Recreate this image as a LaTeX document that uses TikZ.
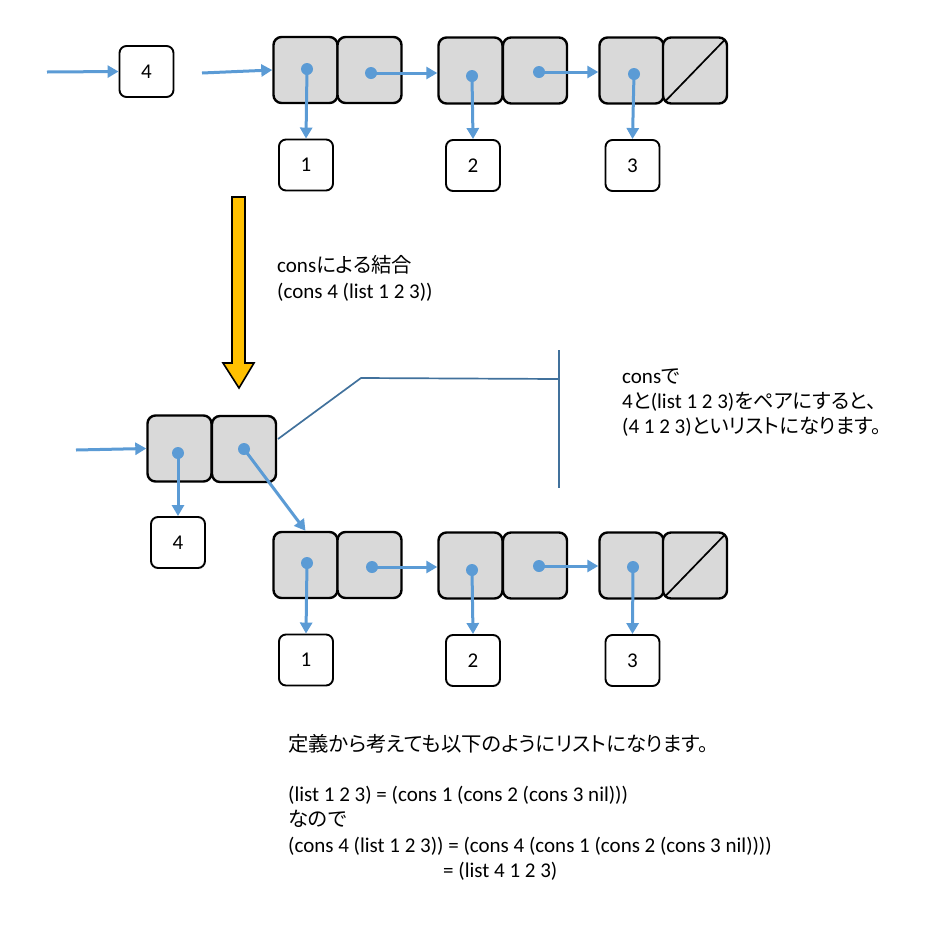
\documentclass[tikz,border=0pt]{standalone}
\usepackage{fontspec}
\setmainfont{Carlito}
\newfontfamily\jpf{Noto Sans CJK JP}[RawFeature=+palt, Scale=0.97]
\usetikzlibrary{arrows.meta}
\newcommand\J[1]{{\jpf #1}}
\definecolor{ptrblue}{HTML}{5B9BD5}
\definecolor{cellgray}{HTML}{D9D9D9}
\definecolor{arrowyellow}{HTML}{FFC000}
\definecolor{calloutblue}{HTML}{41719C}
\tikzset{
  cell/.style={draw=black, line width=2.4, fill=cellgray, rounded corners=8,
    minimum width=64, minimum height=66, inner sep=0},
  numbox/.style={draw=black, line width=1.9, fill=white, rounded corners=7,
    minimum width=54, minimum height=51, inner sep=0, font=\fontsize{21}{25}\selectfont},
  dot/.style={circle, fill=ptrblue, minimum size=12, inner sep=0},
  ptr/.style={draw=ptrblue, line width=3, -{Triangle[length=11pt, width=12pt]}},
  txt/.style={anchor=base west, inner sep=0, font=\fontsize{21}{25.5}\selectfont},
  callout/.style={draw=calloutblue, line width=1.7},
}
\begin{document}
\begin{tikzpicture}[x=1pt, y=-1pt]
\useasboundingbox (0,0) rectangle (943,930);

% ---------- top: 4 alone ----------
\node[numbox] (n4t) at (146.5,71.5) {4};
\coordinate (in4t) at (47,72);
\draw[ptr] (in4t) -- (n4t.west);

% ---------- top list (1 2 3) ----------
\node[cell] (a1) at (305.5,70) {};
\node[cell] (a2) at (369.5,70) {};
\node[cell] (b1) at (470.5,70.5) {};
\node[cell] (b2) at (535,70.5) {};
\node[cell] (c1) at (631.5,70.5) {};
\node[cell] (c2) at (695,70.5) {};
\draw[line width=1.7] ([shift={(3,-3)}]c2.south west) -- ([shift={(-3,3)}]c2.north east);

\node[numbox] (n1) at (306,165) {1};
\node[numbox] (n2) at (473,165.5) {2};
\node[numbox] (n3) at (632.5,165.5) {3};

\coordinate (inA) at (202,73);
\draw[ptr] (inA) -- (a1.west);

\node[dot] (a1d) at (307,69) {};
\node[dot] (a2d) at (371,73) {};
\node[dot] (b1d) at (472,76) {};
\node[dot] (b2d) at (539,72) {};
\node[dot] (c1d) at (634,74) {};
\draw[ptr] (a1d.center) -- (n1.north);
\draw[ptr] (a2d.center) -- (a2d.center -| b1.west);
\draw[ptr] (b1d.center) -- (n2.north);
\draw[ptr] (b2d.center) -- (b2d.center -| c1.west);
\draw[ptr] (c1d.center) -- (n3.north);

% ---------- big yellow arrow ----------
\draw[fill=arrowyellow, line width=1.6, line join=miter]
  (232,197) -- (245,197) -- (245,363) -- (254,363) -- (239,388) -- (223,363) -- (232,363) -- cycle;

\node[txt] (t1) at (277,272) {cons\J{による結合}};
\node[txt] (t2) at (277,298) {(cons 4 (list 1 2 3))};

% ---------- bottom: cons cell with 4 ----------
\node[cell] (d1) at (179.5,448.5) {};
\node[cell] (d2) at (244,449) {};
\node[numbox] (n4b) at (178,542.5) {4};
\coordinate (inD) at (76,450);
\draw[ptr] (inD) -- (d1.west);

% ---------- bottom list ----------
\node[cell] (e1) at (305.5,565) {};
\node[cell] (e2) at (369.5,565) {};
\node[cell] (f1) at (470.5,565.5) {};
\node[cell] (f2) at (535,565.5) {};
\node[cell] (g1) at (631.5,565.5) {};
\node[cell] (g2) at (695,565.5) {};
\draw[line width=1.7] ([shift={(3,-3)}]g2.south west) -- ([shift={(-3,3)}]g2.north east);

\node[numbox] (m1) at (306,660) {1};
\node[numbox] (m2) at (473,660.5) {2};
\node[numbox] (m3) at (632.5,660.5) {3};

\node[dot] (d1d) at (178,453) {};
\node[dot] (d2d) at (244,449) {};
\node[dot] (e1d) at (307,563) {};
\node[dot] (e2d) at (372,567) {};
\node[dot] (f1d) at (472,570) {};
\node[dot] (f2d) at (539,566) {};
\node[dot] (g1d) at (633,567) {};
\draw[ptr] (d1d.center) -- (n4b.north);
\draw[ptr] (d2d.center) -- (e1.north);
\draw[ptr] (e1d.center) -- (m1.north);
\draw[ptr] (e2d.center) -- (e2d.center -| f1.west);
\draw[ptr] (f1d.center) -- (m2.north);
\draw[ptr] (f2d.center) -- (f2d.center -| g1.west);
\draw[ptr] (g1d.center) -- (m3.north);

% ---------- callout ----------
\coordinate (cs) at (278,439);
\coordinate (ck) at (361,378);
\coordinate (cm) at (559,379);
\coordinate (ct) at (559,350);
\coordinate (cb) at (559,488);
\draw[callout] (cs) -- (ck) -- (cm);
\draw[callout] (ct) -- (cb);
\node[txt] (c1t) at (622,383) {cons\J{で}};
\node[txt] (c2t) at (622,408) {4\J{と}(list 1 2 3)\J{をペアにすると、}};
\node[txt] (c3t) at (622,433) {(4 1 2 3)\J{といリストになります。}};

% ---------- bottom explanation ----------
\node[txt] (b1t) at (288,751) {\J{定義から考えても以下のようにリストになります。}};
\node[txt] (b2t) at (288,801) {(list 1 2 3) = (cons 1 (cons 2 (cons 3 nil)))};
\node[txt] (b3t) at (288,826) {\J{なので}};
\node[txt] (b4t) at (288,852) {(cons 4 (list 1 2 3)) = (cons 4 (cons 1 (cons 2 (cons 3 nil))))};
\node[txt] (b5t) at (443,877) {= (list 4 1 2 3)};
\end{tikzpicture}
\end{document}
